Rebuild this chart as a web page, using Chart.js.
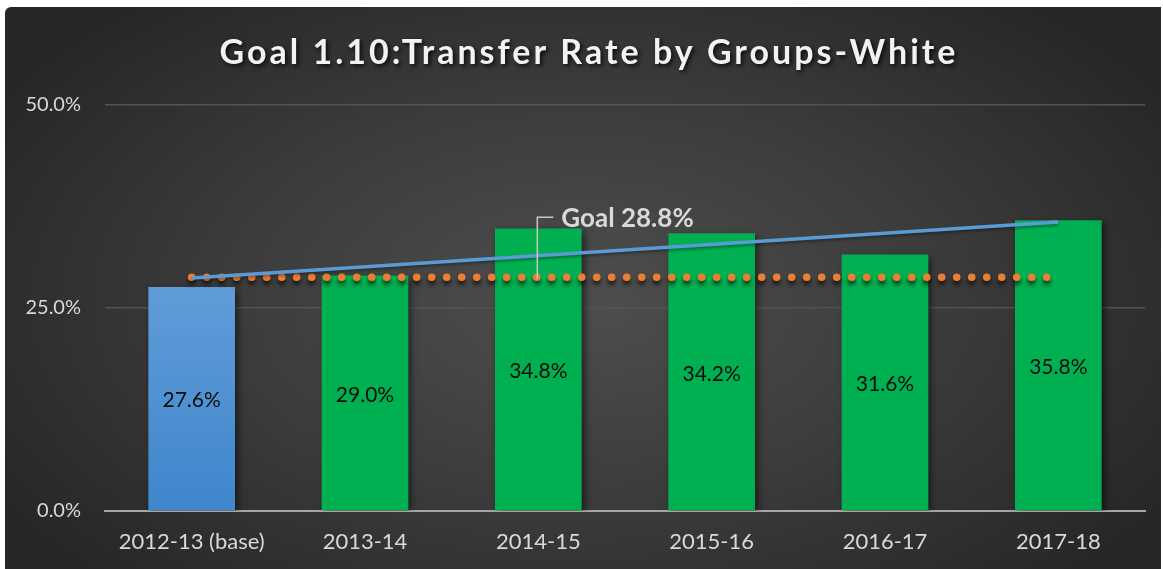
<!DOCTYPE html>
<html>
<head>
<meta charset="utf-8">
<script src="https://cdn.jsdelivr.net/npm/chart.js@4/dist/chart.umd.min.js"></script>
<style>
  html, body { margin: 0; padding: 0; background: #ffffff; }
  #panel {
    position: absolute; left: 5px; top: 7px; width: 1156px; height: 562px;
    border-top-left-radius: 6px; overflow: hidden;
    background: radial-gradient(ellipse 60% 70% at 50% 52%, #4e4e4e 0%, #3c3c3c 50%, #262626 100%);
  }
  canvas { display: block; }
</style>
</head>
<body>
<div id="panel"><canvas id="chart" width="1156" height="562"></canvas></div>
<script>
var TITLE = 'Goal 1.10:Transfer Rate by Groups-White';
var categories = ['2012-13 (base)', '2013-14', '2014-15', '2015-16', '2016-17', '2017-18'];
var transferRate = [27.6, 29.0, 34.8, 34.2, 31.6, 35.8];
var goalRate = [28.8, 28.8, 28.8, 28.8, 28.8, 28.8];
var trendRate = [28.7, null, null, null, null, 35.6];
var yTicks = [0, 25, 50];
var goalLabel = 'Goal 28.8%';
var goalLabelIndex = 2;

var FONT = 'Lato, "Open Sans", sans-serif';

// base year bar gets a blue gradient, the rest are plain green
function barColor(ctx) {
    if (ctx.dataIndex !== 0) return '#00b050';
    var area = ctx.chart.chartArea;
    if (!area) return '#5b9bd5';
    var g = ctx.chart.ctx.createLinearGradient(0, area.top, 0, area.bottom);
    g.addColorStop(0, '#7aaee3');
    g.addColorStop(1, '#3f86cc');
    return g;
}

var shadows = {
    0: { color: 'rgba(0,0,0,0.55)', blur: 7, x: 3, y: 3 },
    1: { color: 'rgba(0,0,0,0.65)', blur: 4, x: 0, y: 4 },
    2: { color: 'rgba(0,0,0,0.35)', blur: 3, x: 0, y: 2 }
};

var shadowPlugin = {
    id: 'shadow',
    beforeDatasetDraw: function(chart, args) {
        var s = shadows[args.index];
        var c = chart.ctx;
        c.save();
        if (!s) return;
        c.shadowColor = s.color;
        c.shadowBlur = s.blur;
        c.shadowOffsetX = s.x;
        c.shadowOffsetY = s.y;
    },
    afterDatasetDraw: function(chart) {
        chart.ctx.restore();
    }
};

var titlePlugin = {
    id: 'titleText',
    afterDraw: function(chart) {
        var c = chart.ctx;
        c.save();
        c.font = 'bold 34px ' + FONT;
        c.letterSpacing = '3px';
        c.fillStyle = '#f2f2f2';
        c.textAlign = 'center';
        c.textBaseline = 'middle';
        c.shadowColor = 'rgba(0,0,0,0.8)';
        c.shadowBlur = 4;
        c.shadowOffsetX = 2;
        c.shadowOffsetY = 2;
        c.fillText(TITLE, chart.width / 2 + 6, 46);
        c.restore();
    }
};

// value labels centred in each bar + the goal callout with its leader line
var labelPlugin = {
    id: 'labels',
    afterDatasetsDraw: function(chart) {
        var c = chart.ctx;
        c.save();
        c.font = '21px ' + FONT;
        c.fillStyle = '#0d0d0d';
        c.textAlign = 'center';
        c.textBaseline = 'middle';
        chart.getDatasetMeta(0).data.forEach(function(bar, i) {
            var mid = (bar.y + bar.base) / 2;
            c.fillText(transferRate[i].toFixed(1) + '%', bar.x, mid + 2);
        });

        var pt = chart.getDatasetMeta(1).data[goalLabelIndex];
        var top = pt.y - 60;
        c.strokeStyle = '#c8c8c8';
        c.lineWidth = 1.5;
        c.beginPath();
        c.moveTo(pt.x - 1, pt.y + 2);
        c.lineTo(pt.x - 1, top);
        c.lineTo(pt.x + 15, top);
        c.stroke();
        c.font = 'bold 26px ' + FONT;
        c.fillStyle = '#d9d9d9';
        c.textAlign = 'left';
        c.fillText(goalLabel, pt.x + 23, top + 1);
        c.restore();
    }
};

new Chart(document.getElementById('chart'), {
    data: {
        labels: categories,
        datasets: [{
            type: 'bar',
            data: transferRate,
            backgroundColor: barColor,
            categoryPercentage: 1,
            barPercentage: 0.5,
            order: 3
        }, {
            type: 'line',
            data: goalRate,
            borderColor: '#ed7d31',
            borderWidth: 7.5,
            borderDash: [0.1, 14.9],
            borderCapStyle: 'round',
            pointRadius: 0,
            fill: false,
            order: 2
        }, {
            type: 'line',
            data: trendRate,
            borderColor: '#5b9bd5',
            borderWidth: 3.5,
            pointRadius: 0,
            spanGaps: true,
            fill: false,
            order: 1
        }]
    },
    options: {
        responsive: false,
        animation: false,
        layout: { padding: { top: 98, right: 16, left: 0, bottom: 0 } },
        plugins: {
            legend: { display: false },
            tooltip: { enabled: false },
            title: { display: false }
        },
        scales: {
            x: {
                grid: { display: false, drawTicks: false },
                border: { color: '#a6a6a6', width: 2 },
                ticks: { color: '#d9d9d9', font: { family: FONT, size: 22 }, padding: 18, maxRotation: 0 },
                afterFit: function(scale) { scale.height = 58; }
            },
            y: {
                min: 0,
                max: 50,
                afterBuildTicks: function(scale) {
                    scale.ticks = yTicks.map(function(v) { return { value: v }; });
                },
                grid: {
                    drawTicks: false,
                    color: function(ctx) { return ctx.tick && ctx.tick.value === 0 ? 'rgba(0,0,0,0)' : '#535353'; },
                    lineWidth: 1.5
                },
                border: { display: false },
                ticks: {
                    color: '#d9d9d9',
                    font: { family: FONT, size: 20 },
                    padding: 24,
                    callback: function(v) { return v.toFixed(1) + '%'; }
                },
                afterFit: function(scale) { scale.width = 100; }
            }
        }
    },
    plugins: [shadowPlugin, labelPlugin, titlePlugin]
});
</script>
</body>
</html>
